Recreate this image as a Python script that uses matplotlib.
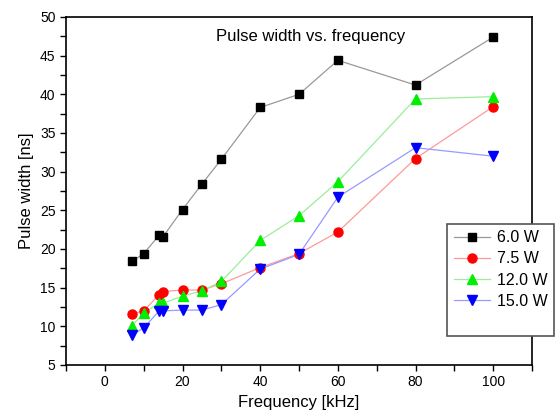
import matplotlib.pyplot as plt
from matplotlib.lines import Line2D
from matplotlib.ticker import MultipleLocator

plt.rcParams["font.family"] = ["Liberation Sans", "DejaVu Sans"]

freq = [7, 10, 14, 15, 20, 25, 30, 40, 50, 60, 80, 100]
w_6_0 = [18.4, 19.4, 21.8, 21.6, 25.1, 28.4, 31.6, 38.3, 40.0, 44.4, 41.2, 47.4]
w_7_5 = [11.6, 12.0, 14.1, 14.5, 14.7, 14.7, 15.5, 17.6, 19.4, 22.2, 31.7, 38.4]
w_12_0 = [10.1, 11.7, 13.0, 13.0, 13.9, 14.6, 15.8, 21.1, 24.3, 28.7, 39.4, 39.7]
w_15_0 = [8.9, 9.8, 12.0, 12.0, 12.1, 12.1, 12.8, 17.4, 19.3, 26.7, 33.1, 32.0]
labels = ["6.0 W", "7.5 W", "12.0 W", "15.0 W"]

styles = [
    (w_6_0, "s", "black", "#999999", 6),
    (w_7_5, "o", "red", "#ff9999", 6.5),
    (w_12_0, "^", "#00ee00", "#99ee99", 7.5),
    (w_15_0, "v", "blue", "#9999ff", 7.5),
]

fig = plt.figure(figsize=(5.55, 4.18), dpi=100)
ax = fig.add_axes([66 / 555, 53 / 418, 466 / 555, 348 / 418])

handles = []
for (vals, mk, col, lcol, ms), lab in zip(styles, labels):
    ax.plot(freq, vals, "-", color=lcol, lw=0.9, zorder=2)
    ax.plot(freq, vals, mk, color=col, ms=ms, mec=col, zorder=3)
    handles.append(Line2D([], [], color=lcol, lw=0.9, marker=mk, mfc=col,
                          mec=col, ms=ms, label=lab))
handles.append(Line2D([], [], ls="none", label=" "))

ax.set_xlim(-10, 110)
ax.set_ylim(5, 50)
ax.xaxis.set_major_locator(MultipleLocator(20))
ax.xaxis.set_minor_locator(MultipleLocator(10))
ax.yaxis.set_major_locator(MultipleLocator(5))
ax.yaxis.set_minor_locator(MultipleLocator(2.5))
ax.tick_params(which="both", direction="out", length=4, width=1, labelsize=10,
               top=False, right=False)
for sp in ax.spines.values():
    sp.set_linewidth(1.2)

ax.set_xlabel("Frequency [kHz]", fontsize=12)
ax.set_ylabel("Pulse width [ns]", fontsize=12)
ax.text(0.526, 0.945, "Pulse width vs. frequency", transform=ax.transAxes,
        ha="center", va="center", fontsize=12)

leg = fig.legend(handles=handles, loc="upper right",
                 bbox_to_anchor=(554 / 555, 1 - 224 / 418), borderaxespad=0,
                 fontsize=11.5, handlelength=2.3, handletextpad=0.4,
                 labelspacing=0.38, borderpad=0.4,
                 fancybox=False, framealpha=1, edgecolor="#555555")
leg.get_frame().set_linewidth(1.2)

fig.savefig("out.png", dpi=100)
